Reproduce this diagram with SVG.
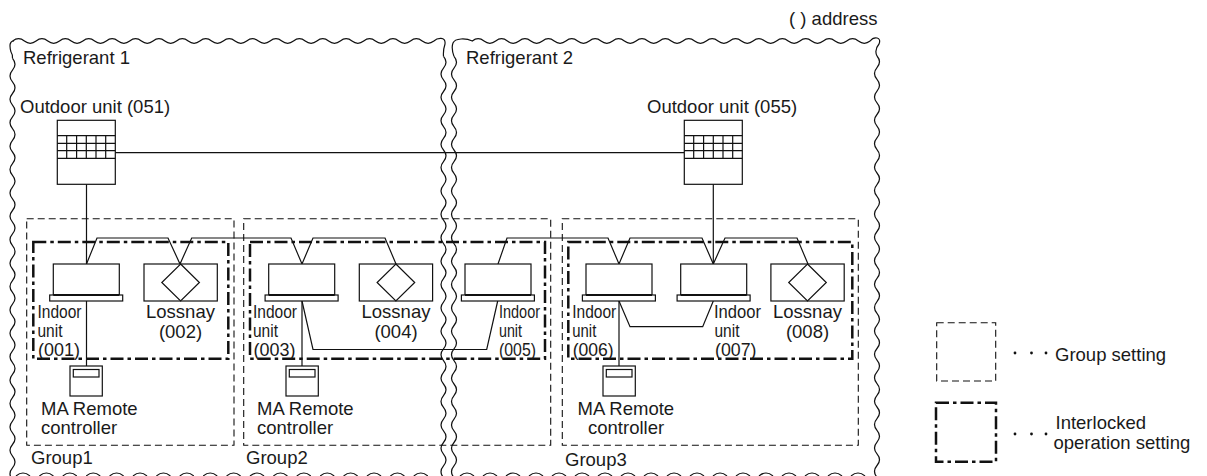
<svg xmlns="http://www.w3.org/2000/svg" width="1207" height="476" viewBox="0 0 1207 476">
<style>
text{font-family:"Liberation Sans",Arial,sans-serif;font-size:18.5px;fill:#1a1a1a}
.l{fill:none;stroke:#111;stroke-width:1.2}
.b{fill:#fff;stroke:#111;stroke-width:1.2}
.w{fill:none;stroke:#111;stroke-width:1.2}
.g{fill:none;stroke:#111;stroke-width:1.1;stroke-dasharray:7 4}
.i{fill:none;stroke:#111;stroke-width:2.5;stroke-dasharray:13 4 3.500 4}
.h{fill:none;stroke:#111;stroke-width:2}
</style>
<defs>
<path id="vw" class="w" d="M0 0q5 5.850 0 11.700t0 11.700t0 11.700t0 11.700t0 11.700t0 11.700t0 11.700t0 11.700t0 11.700t0 11.700t0 11.700t0 11.700t0 11.700t0 11.700t0 11.700t0 11.700t0 11.700t0 11.700t0 11.700t0 11.700t0 11.700t0 11.700t0 11.700t0 11.700t0 11.700t0 11.700t0 11.700t0 11.700t0 11.700t0 11.700t0 11.700t0 11.700t0 11.700t0 11.700t0 11.700t0 11.700"/>
<g id="out"><rect class="b" x="0" y="0" width="58" height="64"/><path class="l" d="M0 15.400H58M0 23H58M0 30.400H58M0 38H58M9.400 15.400V38M19.300 15.400V38M29 15.400V38M38.700 15.400V38M48.400 15.400V38"/></g>
<g id="ind"><rect class="b" x="0" y="0" width="66" height="31"/><rect class="b" x="-3.600" y="31" width="73" height="6"/><path class="h" d="M0 31H66"/></g>
<g id="los"><rect class="b" x="0" y="0" width="73.300" height="37"/><path class="b" d="M36.600 0L55.400 18.500L36.600 37L17.800 18.500Z"/></g>
<g id="rc"><rect class="b" x="0" y="0" width="32.300" height="30"/><rect class="b" x="3.300" y="3.500" width="25.700" height="7.500"/></g>
</defs>
<g id="refrigerant-boundaries">
<path class="w" d="M11 52Q8 41 14 41L12.700 41q5.850 -4.600 11.700 0t11.700 0t11.700 0t11.700 0t11.700 0t11.700 0t11.700 0t11.700 0t11.700 0t11.700 0t11.700 0t11.700 0t11.700 0t11.700 0t11.700 0t11.700 0t11.700 0t11.700 0t11.700 0t11.700 0t11.700 0t11.700 0t11.700 0t11.700 0t11.700 0t11.700 0t11.700 0t11.700 0t11.700 0t11.700 0t11.700 0t11.700 0t11.700 0t11.700 0t11.700 0t11.700 0C437 38 446 36 445 44Q443 50 443.500 56.400"/>
<path class="w" d="M12.500 58.400Q13 55 11 52"/>
<use href="#vw" x="12.500" y="58.400"/>
<use href="#vw" x="443.500" y="56.400"/>
<use href="#vw" x="454" y="56.400"/>
<path class="w" d="M454 56.400Q451 48 453 43C455 38 466 38 472.300 41q5.850 -4.600 11.700 0t11.700 0t11.700 0t11.700 0t11.700 0t11.700 0t11.700 0t11.700 0t11.700 0t11.700 0t11.700 0t11.700 0t11.700 0t11.700 0t11.700 0t11.700 0t11.700 0t11.700 0t11.700 0t11.700 0t11.700 0t11.700 0t11.700 0t11.700 0t11.700 0t11.700 0t11.700 0t11.700 0t11.700 0t11.700 0t11.700 0t11.700 0t11.700 0t11.700 0C874 36 882 37 879 44Q874 50 877 56"/>
<use href="#vw" x="877" y="56"/>
<path class="w" d="M16 476q7 -6 14 0m9.400 0q7 -6 14 0m9.400 0q7 -6 14 0m9.400 0q7 -6 14 0m9.400 0q7 -6 14 0m9.400 0q7 -6 14 0m9.400 0q7 -6 14 0m9.400 0q7 -6 14 0m9.400 0q7 -6 14 0m9.400 0q7 -6 14 0m9.400 0q7 -6 14 0m9.400 0q7 -6 14 0m9.400 0q7 -6 14 0m9.400 0q7 -6 14 0m9.400 0q7 -6 14 0m9.400 0q7 -6 14 0m9.400 0q7 -6 14 0m9.400 0q7 -6 14 0"/>
<path class="w" d="M460 476q7 -6 14 0m9 0q7 -6 14 0m9 0q7 -6 14 0m9 0q7 -6 14 0m9 0q7 -6 14 0m9 0q7 -6 14 0m9 0q7 -6 14 0m9 0q7 -6 14 0m9 0q7 -6 14 0m9 0q7 -6 14 0m9 0q7 -6 14 0m9 0q7 -6 14 0m9 0q7 -6 14 0m9 0q7 -6 14 0m9 0q7 -6 14 0m9 0q7 -6 14 0m9 0q7 -6 14 0m9 0q7 -6 14 0"/>
</g>
<g id="settings">
<rect class="g" x="26.700" y="218.700" width="207.300" height="226.600"/>
<rect class="g" x="243.700" y="218.700" width="307" height="226.600"/>
<rect class="g" x="562.300" y="218.700" width="296" height="226.600"/>
<rect class="i" x="33.300" y="242" width="195" height="116.700"/>
<rect class="i" x="250" y="242" width="295" height="116.700"/>
<rect class="i" x="568.300" y="242" width="284" height="116.700"/>
</g>
<g id="connectors">
<path class="l" d="M86.500 184V264M115 152.700H684M713.300 184V264"/>
<path class="l" d="M86.500 264L97 238H168L180 264L191.700 238H291L302 264L313 238H385L396 264"/>
<path class="l" d="M498 264L507 238H608L619 264L630 238H702L713.300 264L725 238H797L808 264"/>
<path class="l" d="M86.500 301V366M302 301V366M619 301V366"/>
<path class="l" d="M302 301L313 349.500H486.700L497.700 301M619 301L630 326.700H702.700L713.300 301"/>
</g>
<g id="outdoor-051"><use href="#out" x="57.300" y="120.300"/><text x="20" y="113">Outdoor unit (051)</text></g>
<g id="outdoor-055"><use href="#out" x="684.300" y="120.300"/><text x="647" y="113">Outdoor unit (055)</text></g>
<g id="indoor-001"><use href="#ind" x="53.300" y="264"/><text x="37.500" y="318" textLength="44" lengthAdjust="spacingAndGlyphs">Indoor</text><text x="37.500" y="337" textLength="25" lengthAdjust="spacingAndGlyphs">unit</text><text x="38" y="356" textLength="42" lengthAdjust="spacingAndGlyphs">(001)</text></g>
<g id="lossnay-002"><use href="#los" x="144" y="264"/><text text-anchor="middle" x="180.500" y="318">Lossnay</text><text text-anchor="middle" x="180.500" y="337.500">(002)</text></g>
<g id="indoor-003"><use href="#ind" x="268.700" y="264"/><text x="253" y="318" textLength="44" lengthAdjust="spacingAndGlyphs">Indoor</text><text x="253" y="337" textLength="25" lengthAdjust="spacingAndGlyphs">unit</text><text x="253.500" y="356" textLength="42" lengthAdjust="spacingAndGlyphs">(003)</text></g>
<g id="lossnay-004"><use href="#los" x="359.300" y="264"/><text text-anchor="middle" x="396" y="318">Lossnay</text><text text-anchor="middle" x="396" y="337.500">(004)</text></g>
<g id="indoor-005"><use href="#ind" x="465" y="264"/><text x="499" y="318" textLength="41" lengthAdjust="spacingAndGlyphs">Indoor</text><text x="499" y="337" textLength="23" lengthAdjust="spacingAndGlyphs">unit</text><text x="499" y="356" textLength="37" lengthAdjust="spacingAndGlyphs">(005)</text></g>
<g id="indoor-006"><use href="#ind" x="586" y="264"/><text x="572.300" y="318" textLength="44" lengthAdjust="spacingAndGlyphs">Indoor</text><text x="572.300" y="337" textLength="24" lengthAdjust="spacingAndGlyphs">unit</text><text x="572.700" y="356" textLength="41" lengthAdjust="spacingAndGlyphs">(006)</text></g>
<g id="indoor-007"><use href="#ind" x="680.700" y="264"/><text x="714" y="318" textLength="47" lengthAdjust="spacingAndGlyphs">Indoor</text><text x="714.500" y="337" textLength="25" lengthAdjust="spacingAndGlyphs">unit</text><text x="715" y="356" textLength="41.500" lengthAdjust="spacingAndGlyphs">(007)</text></g>
<g id="lossnay-008"><use href="#los" x="770.900" y="264"/><text text-anchor="middle" x="807.500" y="318">Lossnay</text><text text-anchor="middle" x="807.500" y="337.500">(008)</text></g>
<g id="rc-1"><use href="#rc" x="70" y="366"/><text x="41" y="415">MA Remote</text><text x="41" y="434">controller</text></g>
<g id="rc-2"><use href="#rc" x="286" y="366"/><text x="257" y="415">MA Remote</text><text x="257" y="434">controller</text></g>
<g id="rc-3"><use href="#rc" x="603" y="366"/><text x="577.500" y="415">MA Remote</text><text x="588" y="434">controller</text></g>
<g id="labels">
<text x="23" y="64">Refrigerant 1</text>
<text x="466" y="64">Refrigerant 2</text>
<text x="789" y="25">( ) address</text>
<text x="31" y="463.700">Group1</text>
<text x="246" y="463.700">Group2</text>
<text x="565" y="466">Group3</text>
</g>
<g id="legend">
<rect class="g" x="936.700" y="322.700" width="59" height="58.300"/>
<rect class="i" x="936" y="402.700" width="60" height="59"/>
<text x="1055" y="361">Group setting</text>
<text x="1055.500" y="429">Interlocked</text>
<text x="1053.500" y="449">operation setting</text>
<g fill="#111"><circle cx="1015" cy="353" r="1.400"/><circle cx="1031.500" cy="353" r="1.400"/><circle cx="1046" cy="353" r="1.400"/><circle cx="1015" cy="434" r="1.400"/><circle cx="1031.500" cy="434" r="1.400"/><circle cx="1046" cy="434" r="1.400"/></g>
</g>
</svg>
